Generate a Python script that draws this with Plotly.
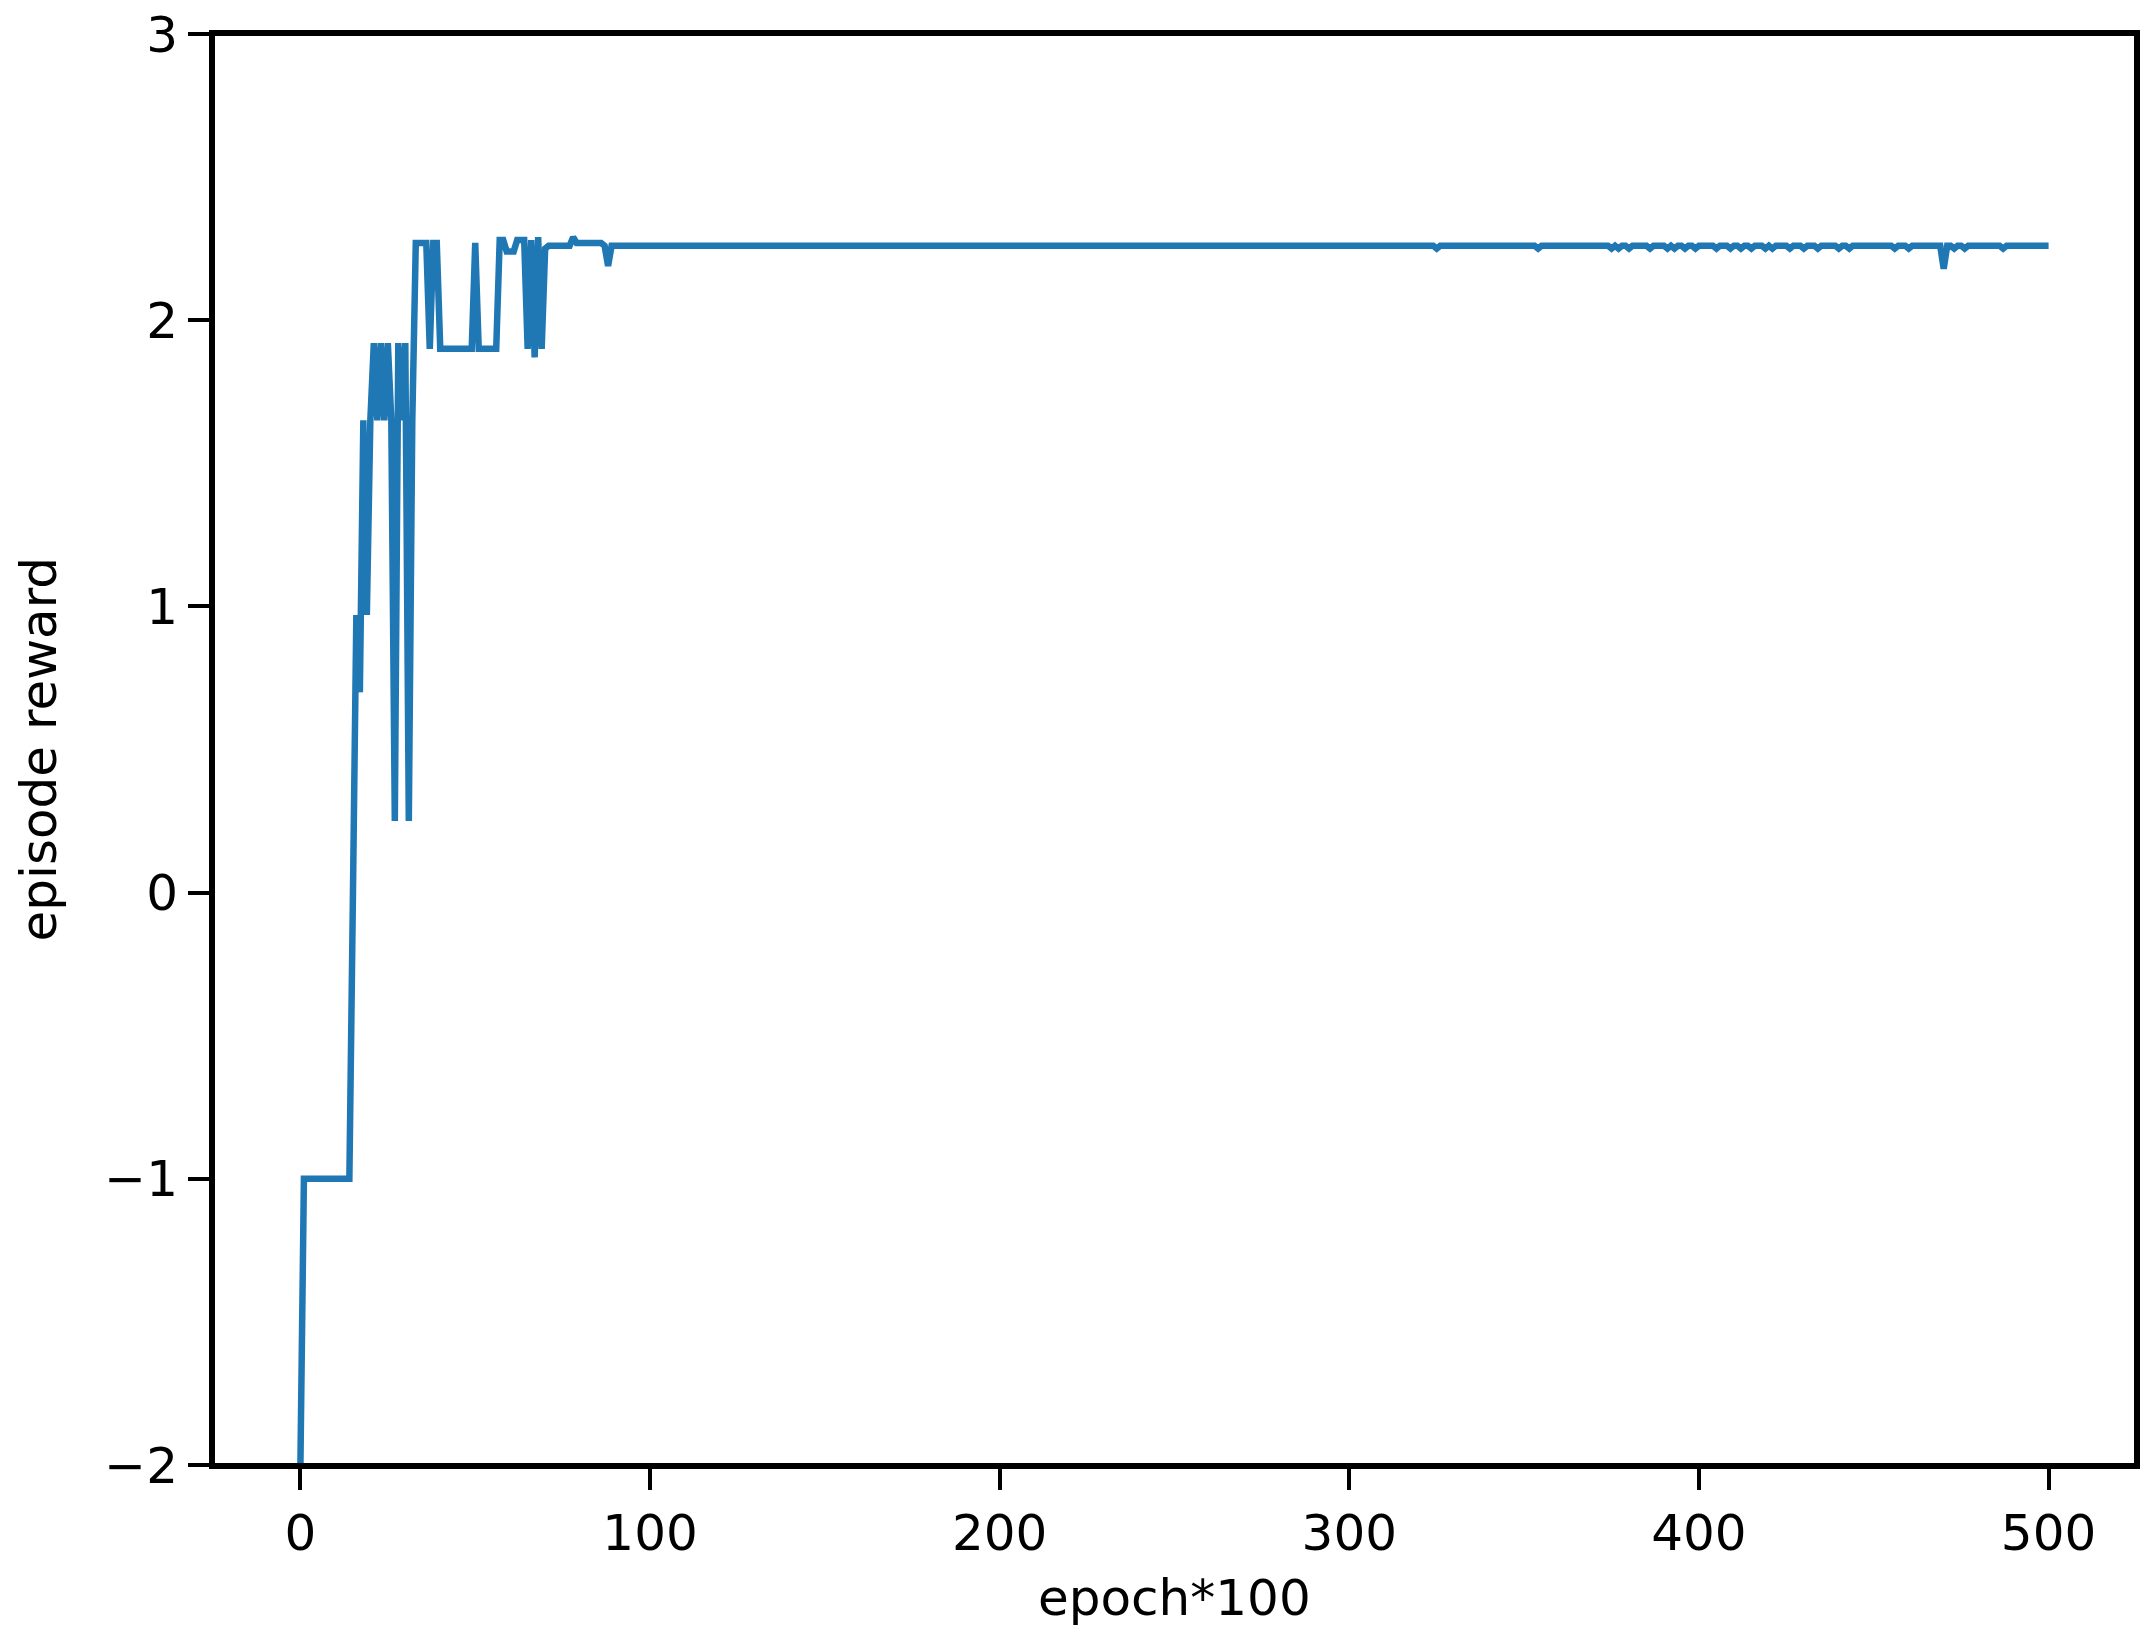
import plotly.graph_objects as go

# ---- data ----
# episode reward for epochs 0..90 (epoch*100 axis units)
early_epochs = list(range(0, 91))
early_reward = [
    -2.00, -1.00, -1.00, -1.00, -1.00, -1.00, -1.00, -1.00, -1.00, -1.00,   # 0-9
    -1.00, -1.00, -1.00, -1.00, -1.00, -0.03, 0.97, 0.70, 1.65, 0.97,       # 10-19
    1.65, 1.92, 1.65, 1.92, 1.65, 1.92, 1.65, 0.25, 1.92, 1.65,             # 20-29
    1.92, 0.25, 1.65, 2.27, 2.27, 2.27, 2.27, 1.90, 2.27, 2.27,             # 30-39
    1.90, 1.90, 1.90, 1.90, 1.90, 1.90, 1.90, 1.90, 1.90, 1.90,             # 40-49
    2.27, 1.90, 1.90, 1.90, 1.90, 1.90, 1.90, 2.28, 2.28, 2.24,             # 50-59
    2.24, 2.24, 2.28, 2.28, 2.28, 1.90, 2.28, 1.87, 2.29, 1.90,             # 60-69
    2.25, 2.26, 2.26, 2.26, 2.26, 2.26, 2.26, 2.26, 2.29, 2.27,             # 70-79
    2.27, 2.27, 2.27, 2.27, 2.27, 2.27, 2.27, 2.26, 2.19, 2.26,             # 80-89
    2.26,                                                                   # 90
]

# plateau from epoch 91 to 500: a constant level with a few small dips
plateau_start = 91
plateau_end = 500
plateau_level = 2.26
dip_epochs = [325, 354, 375, 377, 380, 386, 391, 393, 396, 399, 405, 409,
              412, 415, 419, 421, 426, 430, 434, 440, 443, 456, 460, 470,
              473, 476, 487]
dip_values = [2.25, 2.25, 2.25, 2.25, 2.25, 2.25, 2.25, 2.25, 2.25, 2.25, 2.25, 2.25,
              2.25, 2.25, 2.25, 2.25, 2.25, 2.25, 2.25, 2.25, 2.25, 2.25, 2.25, 2.18,
              2.25, 2.25, 2.25]

x_ticks = [0, 100, 200, 300, 400, 500]
y_ticks = [-2, -1, 0, 1, 2, 3]

# ---- assemble series ----
epochs = list(early_epochs)
reward = list(early_reward)
dips = dict(zip(dip_epochs, dip_values))
for e in range(plateau_start, plateau_end + 1):
    epochs.append(e)
    reward.append(dips.get(e, plateau_level))

FONT = "DejaVu Sans, Liberation Sans, sans-serif"

fig = go.Figure()
fig.add_trace(go.Scatter(
    x=epochs, y=reward, mode="lines",
    line=dict(color="#1f77b4", width=6.5),
    showlegend=False,
))

axis_common = dict(
    showline=True, linecolor="black", linewidth=4, mirror=True,
    ticks="outside", ticklen=21, tickwidth=4, tickcolor="black",
    showgrid=False, zeroline=False, automargin=False,
    ticklabeloverflow="allow",
    tickfont=dict(family=FONT, size=50, color="black"),
)

fig.update_layout(
    width=2151, height=1645,
    margin=dict(l=213, r=15, t=34, b=180),
    paper_bgcolor="white", plot_bgcolor="white",
    font=dict(family=FONT, size=50, color="black"),
    xaxis=dict(range=[-25, 525], tickvals=x_ticks, **axis_common),
    yaxis=dict(range=[-2, 3], tickvals=y_ticks, **axis_common),
    shapes=[dict(type="rect", xref="paper", yref="paper", x0=0, x1=1, y0=0, y1=1,
                 line=dict(color="black", width=4), fillcolor="rgba(0,0,0,0)", layer="above")],
    annotations=[
        dict(text="epoch*100", xref="paper", yref="paper", x=0.5, y=0,
             xanchor="center", yanchor="middle", yshift=-133, showarrow=False,
             font=dict(family=FONT, size=50, color="black")),
        dict(text="episode reward", xref="paper", yref="paper", x=0, y=0.5,
             xanchor="center", yanchor="middle", xshift=-175, textangle=-90, showarrow=False,
             font=dict(family=FONT, size=50, color="black")),
    ],
)

# remove the default page margin so the figure fills the window exactly
fig.write_html("out.html",
               config={"displayModeBar": False},
               post_script="document.body.style.margin='0';document.body.style.overflow='hidden';")
